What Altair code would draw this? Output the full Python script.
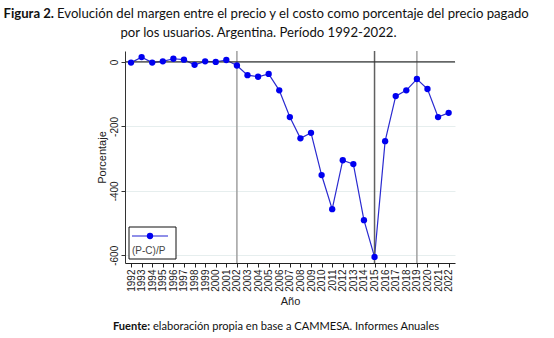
import altair as alt
import pandas as pd

years = list(range(1992, 2023))
margin = [-2, 15, -2, 2, 10, 7, -9, 2, 0, 6,
          -11, -41, -46, -37, -88, -171, -237, -220, -351, -457,
          -305, -317, -491, -605, -246, -106, -88, -53, -84, -171, -158]
vline_years = [2002, 2015, 2019]
vline_colors = ["#a0a0a0", "#606060", "#a0a0a0"]
y_ticks = [0, -200, -400, -600]

title_bold = "Figura 2."
title_rest = "Evolución del margen entre el precio y el costo como porcentaje del precio pagado"
title_line2 = "por los usuarios. Argentina. Período 1992-2022."
source_bold = "Fuente:"
source_rest = "elaboración propia en base a CAMMESA. Informes Anuales"
legend_label = "(P-C)/P"

df = pd.DataFrame({"year": years, "value": margin})
vdf = pd.DataFrame({"year": vline_years, "color": vline_colors})
one = pd.DataFrame({"a": [0]})

AX = "Liberation Sans"
TF = "Lato"

xscale = alt.Scale(domain=[1991.43, 2022.6], nice=False, zero=False)
yscale = alt.Scale(domain=[-624, 34], nice=False, zero=False)

xaxis = alt.Axis(values=years, format="d", labelAngle=-90, title="Año",
                 labelFont=AX, labelFontSize=10, labelColor="#222",
                 titleFont=AX, titleFontSize=11, titleFontWeight="normal",
                 titleColor="#222", titlePadding=4,
                 domainColor="#222", tickColor="#222", tickSize=4,
                 labelPadding=2, grid=False, labelFlush=False,
                 labelOverlap=False, labelSeparation=0)
yaxis = alt.Axis(values=y_ticks, labelExpr="'' + datum.value",
                 labelAngle=-90, labelAlign="center", labelBaseline="bottom",
                 title="Porcentaje", labelFont=AX, labelFontSize=10,
                 labelColor="#222", titleFont=AX, titleFontSize=11,
                 titleFontWeight="normal", titleColor="#222", titlePadding=2,
                 domainColor="#333", tickColor="#333", tickSize=4,
                 labelPadding=2, grid=True, gridColor="#e6eeee",
                 gridWidth=1)

xenc = alt.X("year:Q", scale=xscale, axis=xaxis)
yenc = alt.Y("value:Q", scale=yscale, axis=yaxis)

base = alt.Chart(df)

line = base.mark_line(color="#2a2ad0", strokeWidth=1.2).encode(x=xenc, y=yenc)
pts = base.mark_circle(color="#0000f0", size=40, opacity=1).encode(x=xenc, y=yenc)

vrules = alt.Chart(vdf).mark_rule(strokeWidth=1.5).encode(
    x=xenc, color=alt.Color("color:N", scale=None))
zero = alt.Chart(one).mark_rule(color="#333", strokeWidth=1.3).encode(
    y=alt.Y(datum=0, scale=yscale, axis=yaxis))

# legend box
lbox = alt.Chart(one).mark_rect(fill="white", stroke="#111", strokeWidth=1).encode(
    x=alt.value(4), x2=alt.value(51), y=alt.value(176), y2=alt.value(208))
lline = alt.Chart(one).mark_rule(color="#6a6ae0", strokeWidth=1.5).encode(
    x=alt.value(7), x2=alt.value(43), y=alt.value(185))
ldot = alt.Chart(one).mark_circle(color="#0000f0", size=40, opacity=1).encode(
    x=alt.value(25), y=alt.value(185))
ltext = alt.Chart(one).mark_text(text=legend_label, font=AX, fontSize=10, color="#444",
                                 align="left", baseline="middle").encode(
    x=alt.value(7), y=alt.value(200))

# titles
TS = 13.15
SS = 11.1
t1b = alt.Chart(one).mark_text(text=title_bold, font=TF, fontSize=TS, fontWeight="bold",
                               color="#111", align="right", baseline="middle").encode(
    x=alt.value(-71), y=alt.value(-37))
t1r = alt.Chart(one).mark_text(text=title_rest, font=TF, fontSize=TS,
                               color="#111", align="left", baseline="middle").encode(
    x=alt.value(-68), y=alt.value(-37))
t2 = alt.Chart(one).mark_text(text=title_line2, font=TF, fontSize=TS,
                              color="#111", align="center", baseline="middle").encode(
    x=alt.value(133.5), y=alt.value(-18))
s1 = alt.Chart(one).mark_text(text=source_bold, font=TF, fontSize=SS, fontWeight="bold",
                              color="#111", align="right", baseline="middle").encode(
    x=alt.value(25), y=alt.value(276))
s2 = alt.Chart(one).mark_text(text=source_rest, font=TF, fontSize=SS,
                              color="#111", align="left", baseline="middle").encode(
    x=alt.value(28), y=alt.value(276))

chart = alt.layer(line, vrules, zero, pts, lbox, lline, ldot, ltext,
                  t1b, t1r, t2, s1, s2).properties(
    width=330, height=212,
    autosize=alt.AutoSizeParams(type="none"),
    padding={"left": 125, "top": 51, "right": 99, "bottom": 75},
    background="white",
).configure_view(stroke=None)

chart.save("out.html", embed_options={"renderer": "svg", "actions": False})
